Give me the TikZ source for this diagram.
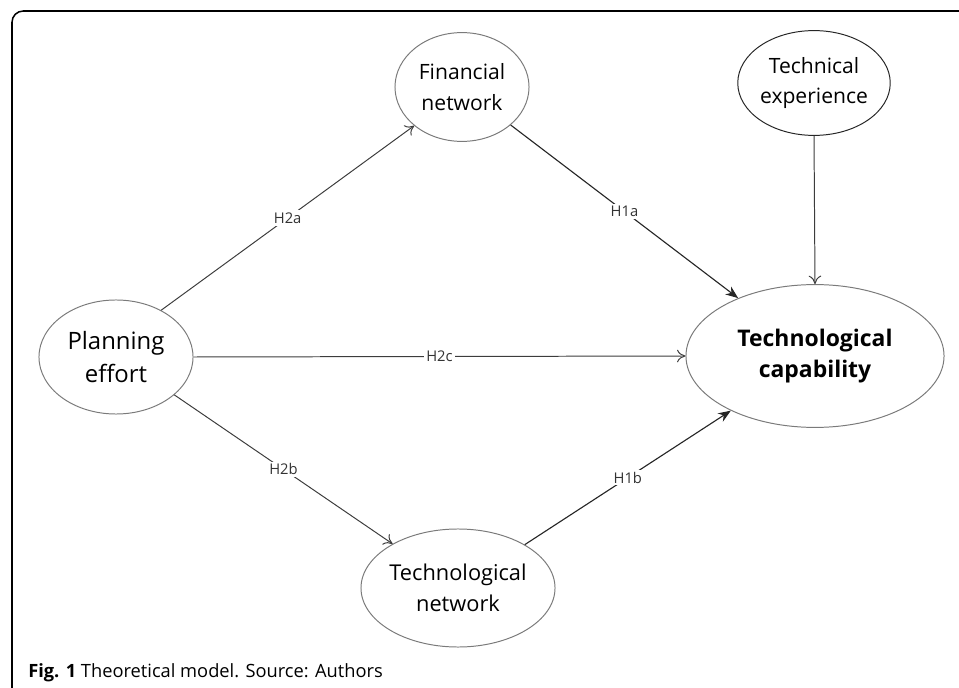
\documentclass[tikz,border=0pt]{standalone}
\usepackage{fontspec}
\setmainfont{Open Sans}
\usetikzlibrary{shapes.geometric,arrows.meta}

\definecolor{rimgray}{HTML}{7A7A7A}
\definecolor{linegray}{HTML}{3C3C3C}

\tikzset{
    construct/.style={ellipse, draw=rimgray, line width=0.7pt, inner sep=0pt, align=center},
    path/.style={draw=linegray, line width=0.7pt, -{To[length=6pt,width=9pt]}},
    keypath/.style={draw=black!85, line width=0.8pt, -{Stealth[length=9pt,width=7pt]}},
    hyp/.style={fill=white, inner sep=1.5pt, font=\fontsize{10.5}{12}\selectfont, text=black!80}
}

\begin{document}
\begin{tikzpicture}[x=0.025cm, y=-0.025cm]
    \useasboundingbox (0, 0) rectangle (959, 688);

    % frame
    \draw[line width=1.1pt, rounded corners=8pt] (12, 688) -- (12, 11) -- (959, 11);

    \node[
        construct,
        minimum width=3.85cm,
        minimum height=2.85cm,
        font=\fontsize{17}{23.5}\selectfont
    ] (plan) at (116, 357) {Planning\\effort};

    \node[
        construct,
        minimum width=3.35cm,
        minimum height=2.72cm,
        font=\fontsize{15}{22}\selectfont
    ] (fin) at (462, 87) {Financial\\network};

    \node[
        construct,
        draw=black!85,
        minimum width=3.75cm,
        minimum height=2.62cm,
        font=\fontsize{15}{22}\selectfont
    ] (exp) at (814, 83) {Technical\\experience};

    \node[
        construct,
        minimum width=6.45cm,
        minimum height=3.57cm,
        font=\fontsize{16.3}{22.5}\selectfont\bfseries
    ] (cap) at (815, 356) {Technological\\capability};

    \node[
        construct,
        minimum width=4.8cm,
        minimum height=2.95cm,
        font=\fontsize{15.5}{22}\selectfont
    ] (tnet) at (458, 588) {Technological\\network};

    \draw[path] (plan.46) -- node[hyp, midway] {H2a} (fin.219);
    \draw[keypath] (fin.-38) -- node[hyp, midway] {H1a} (cap.143);
    \draw[path] (exp.south) -- (cap.north);
    \draw[path] (plan.east) -- node[hyp, midway] {H2c} (cap.west);
    \draw[path] (plan.-33) -- node[hyp, midway] {H2b} (tnet.146);
    \draw[keypath] (tnet.33) -- node[hyp, midway] {H1b} (cap.213);

    \node[anchor=west, font=\fontsize{13}{15}\selectfont, inner sep=0pt] (caption) at (28, 673)
        {\textbf{Fig. 1} Theoretical model. Source: Authors};

\end{tikzpicture}
\end{document}
